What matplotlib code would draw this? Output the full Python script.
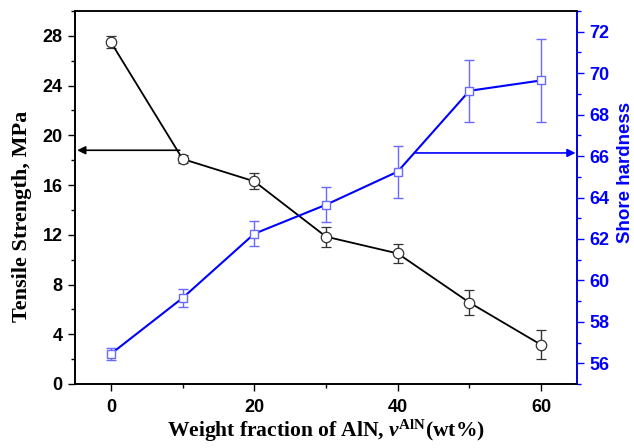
import numpy as np
import matplotlib
matplotlib.use("Agg")
import matplotlib.pyplot as plt
from matplotlib.ticker import MultipleLocator

# Data
aln_wt = [0, 10, 20, 30, 40, 50, 60]
tensile = [27.5, 18.1, 16.3, 11.85, 10.5, 6.55, 3.15]
tensile_err = [0.5, 0.35, 0.65, 0.8, 0.73, 1.0, 1.18]
hardness = [56.45, 59.15, 62.25, 63.65, 65.25, 69.15, 69.65]
hardness_err = [0.3, 0.45, 0.6, 0.85, 1.25, 1.5, 2.0]

# arrow pointers (start x, y, tip x) for each series
arrow_left = (9.6, 18.8, -4.7)
arrow_right = (42.5, 66.15, 64.8)

plt.rcParams["font.family"] = ["Liberation Sans", "DejaVu Sans"]
plt.rcParams["mathtext.fontset"] = "custom"
plt.rcParams["mathtext.rm"] = "Liberation Serif:bold"
plt.rcParams["mathtext.it"] = "Liberation Serif:italic:bold"

BLUE = "#0000ff"
LIGHT_BLUE = "#6a6aff"

fig = plt.figure(figsize=(6.34, 4.48), dpi=100)
ax = fig.add_axes([0.1183, 0.1429, 0.7918, 0.8325])
ax2 = ax.twinx()

# tensile strength
ax.errorbar(aln_wt, tensile, yerr=tensile_err, color="black", lw=1.3,
            marker="o", ms=7.5, mfc="white", mec="#333333", mew=0.9,
            ecolor="#333333", elinewidth=1.0, capsize=3.5, capthick=1.0, zorder=3)
# shore hardness
ax2.errorbar(aln_wt, hardness, yerr=hardness_err, color=BLUE, lw=1.5,
             marker="s", ms=6, mfc="white", mec=LIGHT_BLUE, mew=1.0,
             ecolor=LIGHT_BLUE, elinewidth=1.0, capsize=3.5, capthick=1.0, zorder=3)

ax.annotate("", xy=(arrow_left[2], arrow_left[1]), xytext=(arrow_left[0], arrow_left[1]),
            arrowprops=dict(arrowstyle="-|>", color="black", lw=1.2,
                            mutation_scale=12, shrinkA=0, shrinkB=0))
ax2.annotate("", xy=(arrow_right[2], arrow_right[1]), xytext=(arrow_right[0], arrow_right[1]),
             arrowprops=dict(arrowstyle="-|>", color=BLUE, lw=1.2,
                             mutation_scale=12, shrinkA=0, shrinkB=0))

ax.set_xlim(-5, 65)
ax.set_ylim(0, 30)
ax2.set_ylim(55, 73)

ax.xaxis.set_major_locator(MultipleLocator(20))
ax.xaxis.set_minor_locator(MultipleLocator(10))
ax.yaxis.set_minor_locator(MultipleLocator(2))
ax2.yaxis.set_minor_locator(MultipleLocator(1))
ax.set_yticks(np.arange(0, 29, 4))
ax2.set_yticks(np.arange(56, 73, 2))

for a in (ax, ax2):
    a.tick_params(which="major", direction="out", length=5, width=1.0, pad=4)
    a.tick_params(which="minor", direction="out", length=3, width=1.0)
ax.tick_params(labelsize=13)
ax.tick_params(axis="x", pad=6)
ax2.tick_params(axis="y", which="both", colors=BLUE, labelsize=13)
for lab in ax.get_xticklabels() + ax.get_yticklabels() + ax2.get_yticklabels():
    lab.set_fontweight("bold")

for s in ax.spines.values():
    s.set_linewidth(1.2)
for s in ax2.spines.values():
    s.set_linewidth(1.2)
ax2.spines["right"].set_color(BLUE)
ax.spines["top"].set_color("#333333")

ax.set_xlabel(r"Weight fraction of AlN, $\mathit{v}^{\mathrm{AlN}}$(wt%)",
              family="Liberation Serif", fontweight="bold", fontsize=15.5)
ax.xaxis.set_label_coords(0.5, -0.09)
ax.set_ylabel("Tensile Strength, MPa", family="Liberation Serif",
              fontweight="bold", fontsize=16)
ax.yaxis.set_label_coords(-0.086, 0.45)
ax2.set_ylabel("Shore hardness", color=BLUE, fontweight="bold", fontsize=13.5)
ax2.yaxis.set_label_coords(1.08, 0.568)

fig.savefig("out.png", dpi=100)
